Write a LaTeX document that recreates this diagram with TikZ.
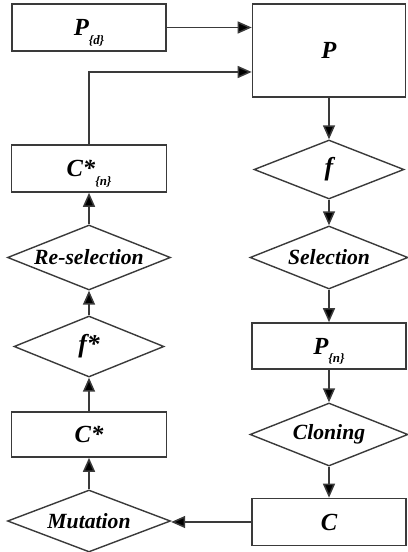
\documentclass[tikz,border=0pt]{standalone}
\usepackage{fontspec}
\setmainfont{Liberation Serif}
\usetikzlibrary{shapes.geometric,arrows.meta}
\definecolor{linegray}{HTML}{3A3A3A}
\newcommand{\subtxt}[1]{\raisebox{-0.75ex}[0pt][0pt]{\fontsize{11}{11}\selectfont\{#1\}}}
\begin{document}
\begin{tikzpicture}[x=0.3mm,y=-0.3mm,
		box/.style={draw=linegray,line width=1.4pt,rectangle,minimum width=46.2mm,minimum height=14.1mm,inner sep=0pt,font=\fontsize{21}{21}\selectfont\bfseries\itshape},
		dia/.style={draw=linegray,line width=1.2pt,diamond,aspect=2.5,inner sep=0pt,font=\fontsize{18.5}{18.5}\selectfont\bfseries\itshape},
		arr/.style={draw=linegray,line width=1.3pt,-{Triangle[length=4.2mm,width=3.6mm,fill=black]}}]
	\useasboundingbox (0,0) rectangle (407,552);
	
	% right column
	\node[box] (pd) at (89,27.5) {P\subtxt{d}};
	\node[box,minimum width=45.9mm,minimum height=27.9mm] (p) at (329,50.5) {P};
	\node[dia,minimum width=45mm,minimum height=17.7mm,font=\fontsize{22}{22}\selectfont\bfseries\itshape] (f) at (329,169.5) {f};
	\node[dia,minimum width=47.4mm,minimum height=18.9mm] (sel) at (329,257.5) {Selection};
	\node[box,minimum height=13.8mm] (pn) at (329,346) {P\subtxt{n}};
	\node[dia,minimum width=47.4mm,minimum height=18.9mm] (clo) at (329,434.5) {Cloning};
	\node[box] (c) at (329,522) {C};
	
	% left column
	\node[dia,minimum width=48.9mm,minimum height=18.6mm] (mut) at (89,521) {Mutation};
	\node[box,minimum width=46.5mm,minimum height=13.5mm] (cs) at (89,434.5) {C*};
	\node[dia,minimum width=45mm,minimum height=18.3mm,font=\fontsize{22}{22}\selectfont\bfseries\itshape] (fs) at (89,346.5) {f*};
	\node[dia,minimum width=48.9mm,minimum height=19.5mm] (rsel) at (89,257.5) {Re-selection};
	\node[box,minimum width=46.5mm] (csn) at (89,168.5) {C*\subtxt{n}};
	
	% connectors
	\draw[arr] (pd.east) -- (pd.east -| p.west);
	\draw[arr] (csn.north) |- ([yshift=-6.45mm]p.west);
	\draw[arr] (p.south) -- (f.north);
	\draw[arr] (f.south) -- (sel.north);
	\draw[arr] (sel.south) -- (pn.north);
	\draw[arr] (pn.south) -- (clo.north);
	\draw[arr] (clo.south) -- (c.north);
	\draw[arr] (c.west) -- (c.west -| mut.east);
	\draw[arr] (mut.north) -- (cs.south);
	\draw[arr] (cs.north) -- (fs.south);
	\draw[arr] (fs.north) -- (rsel.south);
	\draw[arr] (rsel.north) -- (csn.south);
\end{tikzpicture}
\end{document}
